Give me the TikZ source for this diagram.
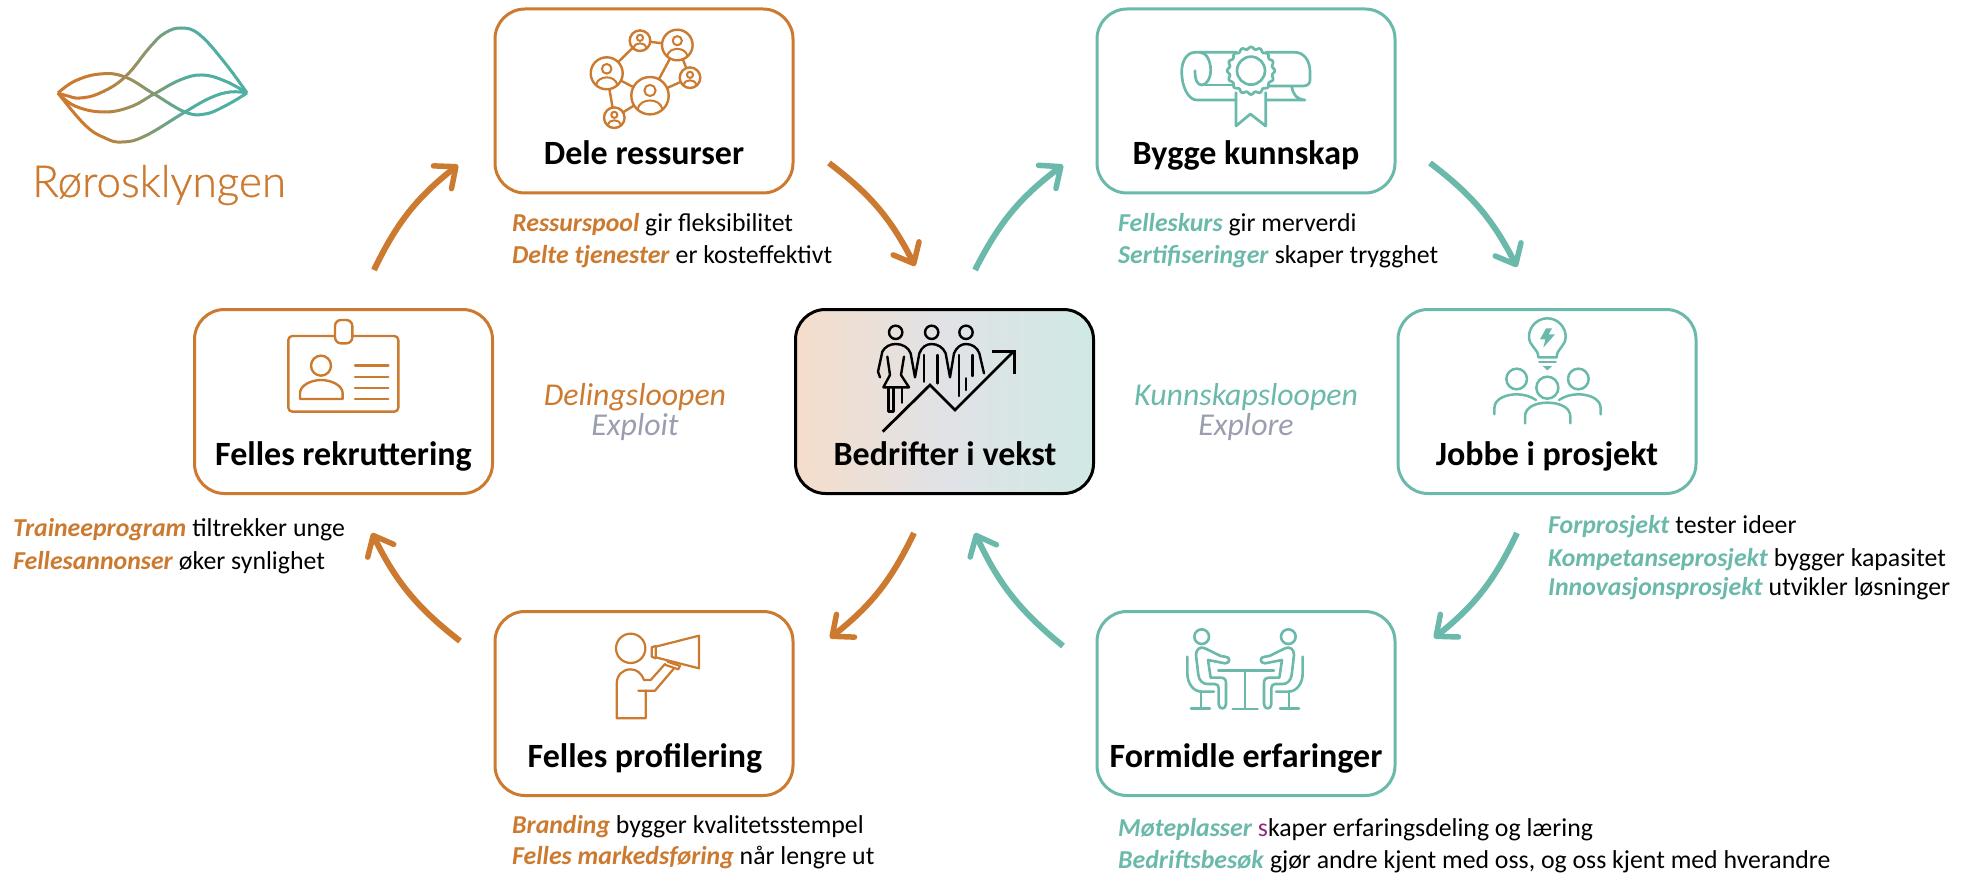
\documentclass[tikz,border=0pt]{standalone}
\usepackage{fontspec}
\setmainfont{Carlito}
\newfontfamily\logofont[UprightFont=* Light,UprightFeatures={FakeBold=0.8}]{Lato}
\usetikzlibrary{arrows.meta}
\definecolor{oran}{HTML}{CC7A2F}
\definecolor{teal}{HTML}{6AB9AB}
\definecolor{logoteal}{HTML}{4FAFA2}
\definecolor{grayish}{HTML}{9A9EB0}
\definecolor{lilla}{HTML}{8E2A7E}
\definecolor{CenterL}{HTML}{F5DDCA}
\definecolor{CenterM}{HTML}{E0E2E6}
\definecolor{CenterR}{HTML}{D0E9E4}
\newcommand{\tit}{\fontsize{34}{38}\selectfont\bfseries}
\newcommand{\cpt}{\fontsize{25.8}{30}\selectfont}
\newcommand{\lop}{\fontsize{31.8}{36}\selectfont\itshape}
\newcommand{\ko}[1]{\textcolor{oran}{\textbf{\textit{#1}}}}
\newcommand{\kt}[1]{\textcolor{teal}{\textbf{\textit{#1}}}}
\tikzset{
  box/.style={draw,rounded corners=30pt,line width=3pt,minimum width=298pt,minimum height=184pt,inner sep=0pt},
  orangebox/.style={box,draw=oran,fill=white},
  tealbox/.style={box,draw=teal,fill=white},
  title/.style={font=\tit,anchor=base,text=black,inner sep=0pt},
  capt/.style={font=\cpt,anchor=base west,text=black,inner sep=0pt},
  loopname/.style={font=\lop,anchor=base,inner sep=0pt},
  arr/.style={line width=6pt,bend left=13,-{Straight Barb[length=17pt,width=29pt,line width=5.5pt,round]}},
  ico/.style={line width=2.4pt,line cap=round,line join=round},
  netnode/.style={circle,draw=oran,line width=2.4pt,inner sep=0pt,fill=white},
}
% network member: x y radius name
\newcommand{\netp}[4]{%
  \node[netnode,minimum size=#3*2pt] (#4) at (#1,#2) {};
  \draw[ico,draw=oran,line width=2pt] (#1,#2-0.28*#3) circle (0.3*#3);
  \draw[ico,draw=oran,line width=2pt] (#1-0.66*#3,#2+0.72*#3) .. controls (#1-0.55*#3,#2+0.1*#3) and (#1+0.55*#3,#2+0.1*#3) .. (#1+0.66*#3,#2+0.72*#3);
}
\begin{document}
\begin{tikzpicture}[x=1pt,y=-1pt]
\useasboundingbox (0,0) rectangle (1972,877);

% ---- logo ----
\foreach \i in {0,...,39}{
  \pgfmathsetmacro\xa{54+5*\i}
  \pgfmathsetmacro\xb{\xa+5.4}
  \pgfmathsetmacro\p{max(0,min(100,(\xa-90)))}
  \colorlet{strip}{logoteal!\p!oran}
  \begin{scope}
    \clip (\xa,15) rectangle (\xb,150);
    \draw[strip,line width=3pt,line join=round] plot[smooth,tension=.7] coordinates {(58,93)(75,81)(100,74)(125,77)(154,94)(185,112)(205,114)(225,106)(247,93)};
    \draw[strip,line width=3pt,line join=round] plot[smooth,tension=.7] coordinates {(58,93)(68,96)(80,98)(100,93)(125,77)(150,47)(165,33)(182,28)(200,35)(225,63)(247,93)};
    \draw[strip,line width=3pt,line join=round] plot[smooth,tension=.7] coordinates {(58,93)(75,106)(103,112)(130,107)(154,94)(180,80)(202,75)(225,81)(247,93)};
    \draw[strip,line width=3pt,line join=round] plot[smooth,tension=.7] coordinates {(58,93)(85,125)(105,138)(122,142)(145,136)(185,112)(210,98)(230,92)(247,93)};
  \end{scope}
}
\node[font=\logofont\fontsize{44}{48}\selectfont,text=oran,anchor=base west,inner sep=0pt] (logotext) at (32,197) {Rørosklyngen};

% ---- boxes ----
\node[orangebox] (dele) at (644,101) {};
\node[tealbox]   (bygge) at (1246,101) {};
\node[orangebox] (rekr) at (343.5,401.5) {};
\node[box,draw=black,left color=CenterL,right color=CenterR,middle color=CenterM] (vekst) at (944.5,401.5) {};
\node[tealbox]   (jobbe) at (1547,401.5) {};
\node[orangebox] (prof) at (644,703.5) {};
\node[tealbox]   (form) at (1246,703.5) {};

% ---- titles ----
\node[title] (tdele)  at (644,165) {Dele ressurser};
\node[title] (tbygge) at (1246,165) {Bygge kunnskap};
\node[title] (trekr)  at (343.5,465) {Felles rekruttering};
\node[title] (tvekst) at (945,465) {Bedrifter i vekst};
\node[title] (tjobbe) at (1547,465) {Jobbe i prosjekt};
\node[title] (tprof)  at (645,767) {Felles profilering};
\node[title] (tform)  at (1246,767) {Formidle erfaringer};

% ---- captions ----
\node[capt] (c1a) at (512,232) {\ko{Ressurspool} gir fleksibilitet};
\node[capt] (c1b) at (512,264) {\ko{Delte tjenester} er kosteffektivt};
\node[capt] (c2a) at (1118,232) {\kt{Felleskurs} gir merverdi};
\node[capt] (c2b) at (1118,264) {\kt{Sertifiseringer} skaper trygghet};
\node[capt] (c3a) at (13,536) {\ko{Traineeprogram} tiltrekker unge};
\node[capt] (c3b) at (13,569) {\ko{Fellesannonser} øker synlighet};
\node[capt] (c4a) at (1548,533) {\kt{Forprosjekt} tester ideer};
\node[capt] (c4b) at (1548,566) {\kt{Kompetanseprosjekt} bygger kapasitet};
\node[capt] (c4c) at (1548,595) {\kt{Innovasjonsprosjekt} utvikler løsninger};
\node[capt] (c5a) at (512,833) {\ko{Branding} bygger kvalitetsstempel};
\node[capt] (c5b) at (512,864) {\ko{Felles markedsføring} når lengre ut};
\node[capt] (c6a) at (1118,836) {\kt{Møteplasser} \textcolor{lilla}{s}kaper erfaringsdeling og læring};
\node[capt] (c6b) at (1118,868) {\kt{Bedriftsbesøk} gjør andre kjent med oss, og oss kjent med hverandre};

% ---- loop names ----
\node[loopname,text=oran] (l1) at (635,405) {Delingsloopen};
\node[loopname,text=grayish] (l2) at (635,435) {Exploit};
\node[loopname,text=teal] (l3) at (1246,405) {Kunnskapsloopen};
\node[loopname,text=grayish] (l4) at (1246,435) {Explore};

% ---- connectors ----
\coordinate (a1s) at (374,270); \coordinate (a1e) at (458,165);
\coordinate (a2s) at (829,163); \coordinate (a2e) at (915,266);
\coordinate (a3s) at (975,270); \coordinate (a3e) at (1063,165);
\coordinate (a4s) at (1430,163); \coordinate (a4e) at (1517,267);
\coordinate (a5s) at (1517,533); \coordinate (a5e) at (1434,638);
\coordinate (a6s) at (1063,646); \coordinate (a6e) at (975,533);
\coordinate (a7s) at (914,533); \coordinate (a7e) at (830,638);
\coordinate (a8s) at (460,641); \coordinate (a8e) at (372,533);
\draw[arr,draw=oran] (a1s) to (a1e);
\draw[arr,draw=oran] (a2s) to (a2e);
\draw[arr,draw=teal] (a3s) to (a3e);
\draw[arr,draw=teal] (a4s) to (a4e);
\draw[arr,draw=teal] (a5s) to (a5e);
\draw[arr,draw=teal] (a6s) to (a6e);
\draw[arr,draw=oran] (a7s) to (a7e);
\draw[arr,draw=oran] (a8s) to (a8e);

% ---- network icon ----
\draw[ico,draw=oran] (606.7,73.3)--(640,40.7)--(677.3,45)--(690,77.7)--(650,95.7)--(677.3,45);
\draw[ico,draw=oran] (606.7,73.3)--(650,95.7)--(614.3,117.7)--(606.7,73.3);
\netp{606.7}{73.3}{16}{na}
\netp{640}{40.7}{10.3}{nb}
\netp{677.3}{45}{15.3}{nc}
\netp{690}{77.7}{10.3}{nd}
\netp{650}{95.7}{18.7}{ne}
\netp{614.3}{117.7}{10.3}{nf}

% ---- diploma icon ----
\begin{scope}[shift={(1080,0)},x=.33333pt,y=-.33333pt,ico,draw=teal,line width=2.7pt]
  \draw (470,157) -- (345,157) .. controls (320,157) and (305,185) .. (305,215) .. controls (305,260) and (325,300) .. (350,300) -- (468,300);
  \draw (360,157) .. controls (380,157) and (392,185) .. (392,210) .. controls (392,235) and (380,255) .. (365,255) .. controls (352,255) and (345,240) .. (345,212);
  \draw (365,255) -- (465,255);
  \draw (557,157) -- (645,157) .. controls (670,157) and (690,180) .. (690,215) -- (690,240) .. controls (690,250) and (683,258) .. (670,258) -- (557,258);
  \draw (557,300) -- (675,300) .. controls (650,298) and (640,285) .. (635,260);
  \draw (468,278) -- (468,378) -- (511,342) -- (557,378) -- (557,278);
  \draw[fill=white] plot[domain=0:360,samples=145,smooth] ({513+(68+3.5*cos(16*\x))*cos(\x)},{212+(68+3.5*cos(16*\x))*sin(\x)}) -- cycle;
  \draw (513,212) circle (42);
\end{scope}

% ---- badge icon ----
\begin{scope}[shift={(180,300)},x=.33333pt,y=-.33333pt,ico,draw=oran]
  \draw[rounded corners=4pt] (325,108) rectangle (655,335);
  \draw[rounded corners=6pt,fill=white] (465,60) rectangle (517,130);
  \draw (423,197) circle (30);
  \draw (360,297) -- (360,280) .. controls (360,255) and (395,240) .. (423,240) .. controls (452,240) and (488,255) .. (488,280) -- (488,297) -- cycle;
  \draw (525,197) -- (625,197);
  \draw (525,231) -- (625,231);
  \draw (525,264) -- (625,264);
  \draw (525,297) -- (625,297);
\end{scope}

% ---- growth icon ----
\begin{scope}[shift={(780,300)},x=.33333pt,y=-.33333pt,ico,draw=black]
  \draw (347,97) circle (20);
  \draw (455,97) circle (20);
  \draw (558,97) circle (20);
  \draw (300,232) -- (294,215) -- (307,155) .. controls (315,140) and (330,132) .. (347,132) .. controls (368,132) and (385,142) .. (392,160) -- (405,232) -- (418,160) .. controls (425,142) and (438,132) .. (455,132) .. controls (472,132) and (490,142) .. (497,160) -- (510,232) -- (522,160) .. controls (530,142) and (542,132) .. (558,132) .. controls (575,132) and (592,142) .. (598,160) -- (612,220);
  \draw (322,170) -- (330,225) -- (310,262) -- (387,262) -- (363,225) -- (372,170);
  \draw (326,262) -- (326,335) -- (340,335) -- (340,262);
  \draw (366,262) -- (366,308);
  \draw (432,165) -- (432,245);
  \draw (473,165) -- (473,250);
  \draw (537,165) -- (537,288);
  \draw (578,165) -- (578,228);
  \draw (558,235) -- (558,270);
  \draw[line width=2.8pt,line cap=butt,line join=miter] (308,395) -- (450,255) -- (525,330) -- (700,155);
  \draw[line width=2.8pt,line cap=butt,line join=miter] (635,155) -- (703,155) -- (703,222);
\end{scope}

% ---- bulb and team icon ----
\begin{scope}[shift={(1390,300)},x=.33333pt,y=-.33333pt,ico,draw=teal,line width=2.5pt]
  \draw (445,172) .. controls (445,145) and (417,140) .. (417,110) .. controls (417,80) and (442,55) .. (472,55) .. controls (502,55) and (527,80) .. (527,110) .. controls (527,140) and (500,145) .. (500,172) -- cycle;
  \draw (448,186) -- (497,186);
  \fill[teal] (458,198) -- (487,198) -- (472,211) -- cycle;
  \fill[teal] (468,85) -- (450,118) -- (466,118) -- (460,143) -- (495,103) -- (476,103) -- (486,85) -- cycle;
  \draw (380,237) circle (31);
  \draw (472,263) circle (33);
  \draw (565,237) circle (31);
  \draw (313,343) -- (313,325) .. controls (313,295) and (350,283) .. (380,283) .. controls (400,283) and (420,288) .. (438,300);
  \draw (632,343) -- (632,325) .. controls (632,295) and (595,283) .. (565,283) .. controls (545,283) and (525,288) .. (507,300);
  \draw (405,370) -- (405,350) .. controls (405,320) and (440,308) .. (472,308) .. controls (505,308) and (541,320) .. (541,350) -- (541,370);
\end{scope}

% ---- megaphone icon ----
\begin{scope}[shift={(490,610)},x=.33333pt,y=-.33333pt,ico,draw=oran,line width=2.2pt]
  \draw (422,115) circle (44);
  \draw (445,242) -- (495,242) -- (552,175);
  \draw (525,162) -- (482,210) -- (462,210) .. controls (455,190) and (440,178) .. (422,178) .. controls (398,178) and (380,195) .. (380,222) -- (380,325) -- (467,325) -- (467,242);
  \draw (497,110) -- (627,77) -- (627,175) -- (497,142) -- cycle;
  \draw (497,108) -- (485,112) -- (485,140) -- (497,145);
  \draw (532,155) -- (570,168) -- (565,178) -- (527,165);
\end{scope}

% ---- meeting icon ----
\begin{scope}[shift={(1090,610)},x=.33333pt,y=-.33333pt,ico,draw=teal,line width=2.6pt]
  \draw (385,182) -- (552,182);
  \draw (465,182) -- (465,295);
  \draw (428,297) -- (503,297);
  \foreach \sft/\mir in {0/1,930/-1}{
    \begin{scope}[shift={(\sft,0)},xscale=\mir]
      \draw (335,80) circle (22);
      \draw (292,140) -- (292,190) .. controls (292,220) and (310,245) .. (335,245) -- (372,245);
      \draw (333,245) -- (333,295);
      \draw (303,295) -- (360,295);
      \draw (392,138) -- (345,115) .. controls (330,108) and (318,118) .. (318,135) -- (325,195) .. controls (328,212) and (338,222) .. (352,222) -- (375,222) .. controls (383,222) and (386,228) .. (386,235) -- (386,282) .. controls (386,300) and (408,300) .. (408,282) -- (408,218) .. controls (408,208) and (402,203) .. (392,203) -- (362,203) -- (354,150) -- (405,160) .. controls (422,160) and (422,140) .. (405,140) -- (392,138);
    \end{scope}
  }
\end{scope}
\end{tikzpicture}
\end{document}
